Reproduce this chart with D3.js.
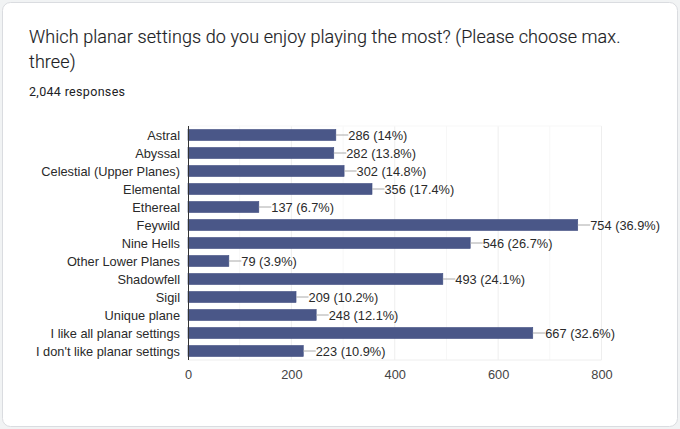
<!DOCTYPE html>
<html><head><meta charset="utf-8">
<script src="https://cdn.jsdelivr.net/npm/d3@7"></script>
<style>html,body{margin:0;padding:0;background:#fff;overflow:hidden}svg{display:block}</style>
</head><body><svg id="c" width="680" height="429"></svg>
<script>
const categories=["Astral","Abyssal","Celestial (Upper Planes)","Elemental","Ethereal","Feywild","Nine Hells","Other Lower Planes","Shadowfell","Sigil","Unique plane","I like all planar settings","I don't like planar settings"];
const counts=[286,282,302,356,137,754,546,79,493,209,248,667,223];
const percents=["14%","13.8%","14.8%","17.4%","6.7%","36.9%","26.7%","3.9%","24.1%","10.2%","12.1%","32.6%","10.9%"];
const majorTicks=[0,200,400,600,800];
const minorTicks=[100,300,500,700];
const titleLines=["Which planar settings do you enjoy playing the most? (Please choose max.","three)"];
const subtitle="2,044 responses";

const svg=d3.select("#c");
svg.append("rect").attr("width",680).attr("height",429).attr("fill","#f1f3f4");
svg.append("rect").attr("x",2.5).attr("y",2.5).attr("width",675).attr("height",424).attr("rx",8)
  .attr("fill","#fff").attr("stroke","#dadce0");
const x=d3.scaleLinear().domain([0,800]).range([188,601.5]);
const y=d3.scaleBand().domain(categories).range([126,360]).paddingInner(0.39).paddingOuter(0.195);

svg.selectAll("text.t").data(titleLines).join("text").attr("class","t")
  .attr("x",29).attr("y",(d,i)=>42.5+i*25).attr("font-family","Roboto, sans-serif").attr("font-size",18)
  .attr("letter-spacing",0.09).attr("font-weight",300).attr("stroke","#202124").attr("stroke-width",0.15)
  .attr("fill","#202124").text(d=>d);
svg.append("text").attr("x",29).attr("y",96).attr("font-family","Roboto, sans-serif").attr("font-size",12.5)
  .attr("letter-spacing",0.33).attr("fill","#202124").text(subtitle);

svg.selectAll("line.minor").data(minorTicks).join("line").attr("class","minor")
  .attr("x1",d=>x(d)).attr("x2",d=>x(d)).attr("y1",126).attr("y2",360).attr("stroke","#f7f7f7");
svg.selectAll("line.major").data(majorTicks.slice(1)).join("line").attr("class","major")
  .attr("x1",d=>x(d)).attr("x2",d=>x(d)).attr("y1",126).attr("y2",360).attr("stroke","#eeeeee");
svg.append("line").attr("x1",188.5).attr("x2",601.5).attr("y1",126).attr("y2",126).attr("stroke","#f7f7f7");
svg.append("line").attr("x1",188.5).attr("x2",601.5).attr("y1",360).attr("y2",360).attr("stroke","#eeeeee");

const font="'Liberation Sans', Arial, sans-serif";
const xAxis=svg.append("g").attr("transform","translate(0,360)")
  .call(d3.axisBottom(x).tickValues(majorTicks).tickSize(0).tickPadding(9.5));
xAxis.select(".domain").remove();
xAxis.selectAll("text").attr("font-family",font).attr("font-size",12.8).attr("fill","#444");

const yAxis=svg.append("g").attr("transform","translate(188.5,0.5)")
  .call(d3.axisLeft(y).tickSize(0).tickPadding(8.5));
yAxis.select(".domain").remove();
yAxis.selectAll("text").attr("font-family",font).attr("font-size",12.8).attr("fill","#2a2a2a");

const rows=categories.map((c,i)=>({c,v:counts[i],p:percents[i]}));
const yc=d=>y(d.c)+y.bandwidth()/2;
svg.selectAll("rect.b").data(rows).join("rect").attr("class","b")
  .attr("x",x(0)).attr("y",d=>y(d.c)).attr("width",d=>x(d.v)-x(0)).attr("height",y.bandwidth())
  .attr("fill","#4a5788").attr("stroke","#3f4d80").attr("stroke-width",0.6);
svg.selectAll("line.lead").data(rows).join("line").attr("class","lead")
  .attr("x1",d=>x(d.v)).attr("x2",d=>x(d.v)+12.5).attr("y1",yc).attr("y2",yc).attr("stroke","#aaa");
svg.selectAll("text.v").data(rows).join("text").attr("class","v")
  .attr("x",d=>x(d.v)+12.5).attr("y",d=>yc(d)+5).attr("font-family",font).attr("font-size",12.8).attr("fill","#2a2a2a")
  .text(d=>`${d.v} (${d.p})`);
svg.append("line").attr("x1",188.5).attr("x2",188.5).attr("y1",126).attr("y2",360).attr("stroke","#333");
</script></body></html>
